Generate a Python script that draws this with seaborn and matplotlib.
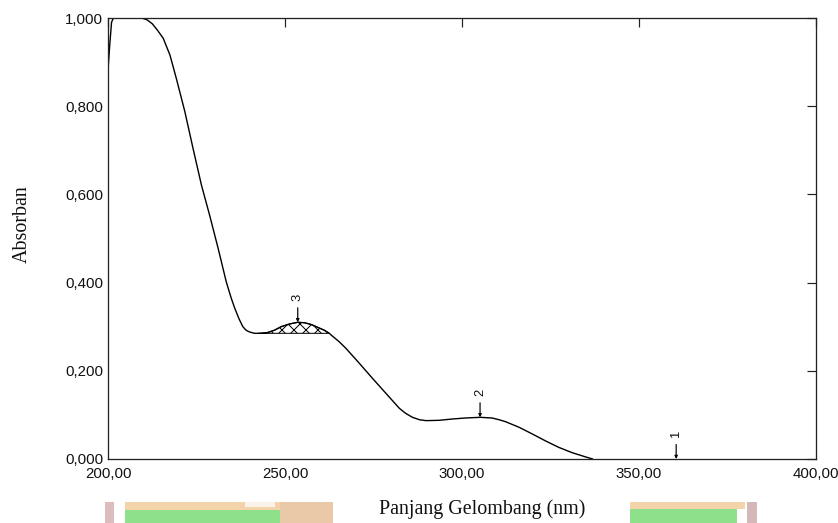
import matplotlib
matplotlib.use("Agg")
import matplotlib.pyplot as plt
import seaborn as sns
from matplotlib.patches import Rectangle

# ---------------- data ----------------
wavelength = [200.0, 200.5, 201.0, 201.5, 209.5, 211.0, 212.5, 214.0, 215.6,
              217.5, 219.3, 221.7, 224.0, 226.4, 228.7, 231.1, 233.4, 234.8,
              235.8, 237.0, 238.1, 239.0, 240.0, 241.4, 242.5, 243.3, 245.2,
              247.0, 248.9, 251.2, 253.6, 255.5, 257.4, 259.4, 261.1, 262.5,
              263.5, 265.3, 267.2, 271.0, 274.7, 278.5, 282.3, 284.0, 286.0,
              288.0, 289.8, 293.5, 297.3, 301.0, 305.1, 308.5, 310.5, 312.3,
              316.1, 319.8, 323.6, 327.3, 331.1, 334.8, 336.9]
absorbance = [0.882, 0.940, 0.990, 1.000, 1.000, 0.996, 0.987, 0.972, 0.954,
              0.916, 0.863, 0.788, 0.705, 0.621, 0.553, 0.478, 0.402, 0.365,
              0.342, 0.318, 0.300, 0.292, 0.288, 0.285, 0.285, 0.285, 0.287,
              0.292, 0.300, 0.306, 0.310, 0.309, 0.305, 0.298, 0.292, 0.285,
              0.278, 0.266, 0.251, 0.217, 0.183, 0.149, 0.115, 0.104, 0.0945,
              0.089, 0.087, 0.0877, 0.0907, 0.093, 0.0945, 0.093, 0.089, 0.0846,
              0.072, 0.057, 0.041, 0.0265, 0.0144, 0.005, 0.0]

peak_ids = ["1", "2", "3"]
peak_wavelength = [360.5, 305.1, 253.6]
peak_absorbance = [0.0, 0.0945, 0.310]

hatch_start = 242.4
hatch_end = 262.6
hatch_baseline = 0.285

xticks = [200, 250, 300, 350, 400]
xtick_labels = ["200,00", "250,00", "300,00", "350,00", "400,00"]
yticks = [0.0, 0.2, 0.4, 0.6, 0.8, 1.0]
ytick_labels = ["0,000", "0,200", "0,400", "0,600", "0,800", "1,000"]

x_label = "Panjang Gelombang (nm)"
y_label = "Absorban"

# ---------------- styling ----------------
sns.set_theme(style="white")
plt.rcParams["font.family"] = ["Liberation Sans", "DejaVu Sans"]
plt.rcParams["hatch.linewidth"] = 1.0
plt.rcParams["hatch.color"] = "black"

W, H, DPI = 838, 523, 72
fig = plt.figure(figsize=(W / DPI, H / DPI), dpi=DPI, facecolor="white")
L, R, T, B = 108, 816, 18, 459
ax = fig.add_axes([L / W, 1 - B / H, (R - L) / W, (B - T) / H])

sns.lineplot(x=wavelength, y=absorbance, sort=False, color="black",
             linewidth=1.4, ax=ax, estimator=None)

# hatched integration area of peak 3
in_range = [hatch_start <= w <= hatch_end for w in wavelength]
ax.fill_between(wavelength, absorbance, hatch_baseline, where=in_range,
                facecolor="none", edgecolor="black", hatch="xx", linewidth=1.0)

# peak markers
for pid, pw, pa in zip(peak_ids, peak_wavelength, peak_absorbance):
    ax.annotate(pid, xy=(pw, pa), xytext=(0, 21), textcoords="offset points",
                ha="center", va="bottom", rotation=90, fontsize=13,
                color="#111111",
                arrowprops=dict(arrowstyle="-|>", color="black", lw=1.2,
                                mutation_scale=6, shrinkA=4, shrinkB=0))

ax.set_xlim(200, 400)
ax.set_ylim(0, 1)
ax.set_xticks(xticks)
ax.set_xticklabels(xtick_labels)
ax.set_yticks(yticks)
ax.set_yticklabels(ytick_labels)

ax.tick_params(axis="both", direction="in", length=9, width=1.2,
               top=True, right=True, colors="#222222", labelcolor="#111111")
ax.tick_params(axis="x", pad=8, labelsize=15)
ax.tick_params(axis="y", pad=5, labelsize=15)

for s in ax.spines.values():
    s.set_color("#222222")
    s.set_linewidth(1.3)
    s.set_visible(True)

ax.set_xlabel(x_label, fontsize=20, family=["Liberation Serif", "DejaVu Serif"],
              color="#111111")
ax.set_ylabel(y_label, fontsize=20, family=["Liberation Serif", "DejaVu Serif"],
              color="#111111")
ax.xaxis.set_label_coords((482 - L) / (R - L), (B - 509) / (B - T))
ax.xaxis.label.set_verticalalignment("center")
ax.yaxis.set_label_coords((22 - L) / (R - L), (B - 224) / (B - T))
ax.yaxis.label.set_verticalalignment("center")

# faint logo watermark strips at the bottom of the page
def strip(x0, x1, y0, y1, color):
    fig.add_artist(Rectangle((x0 / W, 1 - y1 / H), (x1 - x0) / W, (y1 - y0) / H,
                             transform=fig.transFigure, facecolor=color,
                             edgecolor="none", zorder=-5))

strip(105, 114, 502, 523, "#dcbcbc")
strip(125, 333, 502, 510, "#f3d3aa")
strip(245, 275, 502, 507, "#fbf3ea")
strip(125, 280, 510, 523, "#8fe08a")
strip(280, 333, 502, 523, "#eac9a8")
strip(630, 745, 502, 509, "#f3d3aa")
strip(630, 737, 509, 523, "#8fe08a")
strip(747, 757, 502, 523, "#d4b8b8")

fig.savefig("out.png", dpi=DPI, facecolor="white")
